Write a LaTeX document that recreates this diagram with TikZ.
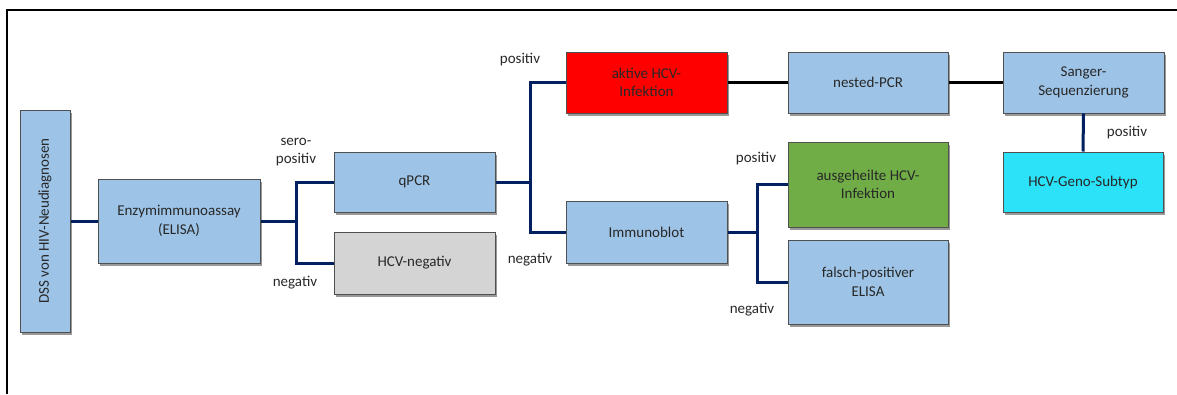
\documentclass[tikz,border=0pt]{standalone}
\usepackage{fontspec}
\setmainfont{Carlito}
\usetikzlibrary{shadows}
\definecolor{boxblue}{RGB}{157,195,230}
\definecolor{boxred}{RGB}{255,0,0}
\definecolor{boxgreen}{RGB}{112,173,71}
\definecolor{boxcyan}{RGB}{43,226,248}
\definecolor{boxgray}{RGB}{212,212,212}
\definecolor{navy}{RGB}{0,32,96}
\definecolor{txt}{RGB}{40,40,40}
\definecolor{bord}{RGB}{80,80,80}
\tikzset{
  box/.style={draw=bord, line width=1pt, fill=boxblue, inner sep=0pt, align=center,
    text=txt, font=\fontsize{15}{18.5}\selectfont,
    drop shadow={shadow xshift=1.5pt, shadow yshift=-2.5pt, opacity=0.4, fill=black}},
  lbl/.style={text=txt, font=\fontsize{15}{18.5}\selectfont, align=center, inner sep=0pt},
  nav/.style={draw=navy, line width=3pt},
  blk/.style={draw=black, line width=3pt}
}
\begin{document}
\begin{tikzpicture}[x=1pt,y=-1pt]
\useasboundingbox (0,0) rectangle (1177,394);
\draw[line width=1.5pt] (7,394) -- (7,10) -- (1177,10);
% boxes
\node[box, rotate=90, minimum width=222, minimum height=50] (dss) at (45,221) {DSS von HIV-Neudiagnosen};
\node[box, minimum width=162, minimum height=84] (enz) at (179,221) {Enzymimmunoassay\\(ELISA)};
\node[box, minimum width=161, minimum height=60] (qpcr) at (414.5,182) {qPCR};
\node[box, fill=boxgray, minimum width=161, minimum height=62] (neg) at (414.5,263) {HCV-negativ};
\node[box, fill=boxred, minimum width=161, minimum height=61] (akt) at (646.5,82.5) {aktive HCV-\\Infektion};
\node[box, minimum width=161, minimum height=62] (imm) at (646.5,232) {Immunoblot};
\node[box, minimum width=160, minimum height=61] (nest) at (868,82.5) {nested-PCR};
\node[box, minimum width=161, minimum height=61] (sang) at (1083.5,82.5) {Sanger-\\Sequenzierung};
\node[box, fill=boxcyan, minimum width=160, minimum height=60] (geno) at (1083,182) {HCV-Geno-Subtyp};
\node[box, fill=boxgreen, minimum width=160, minimum height=85] (ausg) at (868,184.5) {ausgeheilte HCV-\\Infektion};
\node[box, minimum width=160, minimum height=84] (fals) at (868,282) {falsch-positiver\\ELISA};
% connectors
\draw[nav] (dss.south) -- (enz.west);
\draw[nav] (enz.east) -- ++(36,0) coordinate (j1);
\draw[nav] (qpcr.west) -| (j1) |- (neg.west);
\draw[nav] (qpcr.east) -- ++(35,0) coordinate (j2);
\draw[nav] (akt.west) -| (j2) |- (imm.west);
\draw[nav] (imm.east) -- ++(30,0) coordinate (j3);
\draw[nav] (ausg.west) -| (j3) |- (fals.west);
\draw[blk] (akt.east) -- (nest.west);
\draw[blk] (nest.east) -- (sang.west);
\draw[nav] (sang.south) -- (geno.north);
% labels
\node[lbl] (l1) at (296,152) {sero-\\positiv};
\node[lbl] (l2) at (295,283) {negativ};
\node[lbl] (l3) at (520,60) {positiv};
\node[lbl] (l4) at (530,260) {negativ};
\node[lbl] (l5) at (756,159) {positiv};
\node[lbl] (l6) at (752,310) {negativ};
\node[lbl] (l7) at (1127,133) {positiv};
\end{tikzpicture}
\end{document}
